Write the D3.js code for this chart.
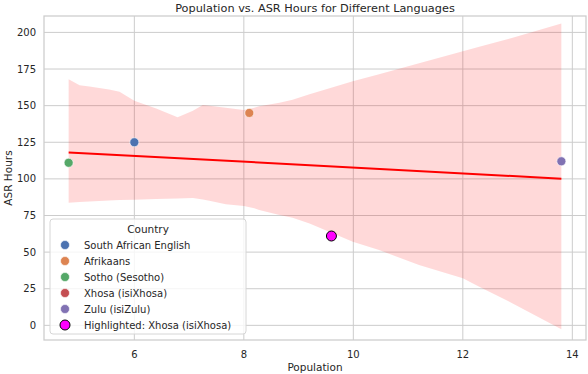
<!DOCTYPE html>
<html>
<head>
<meta charset="utf-8">
<script src="https://d3js.org/d3.v7.min.js"></script>
<style>
  body { margin: 0; background: #fff; }
  text { font-family: "DejaVu Sans", sans-serif; fill: #262626; }
</style>
</head>
<body>
<script>
"use strict";
// data
var languages = ["South African English", "Afrikaans", "Sotho (Sesotho)", "Xhosa (isiXhosa)", "Zulu (isiZulu)"];
var population = [6.0, 8.1, 4.8, 9.6, 13.8];
var asrHours = [125, 145, 111, 61, 112];
var colors = ["#4c72b0", "#dd8452", "#55a868", "#c44e52", "#8172b3"];
var highlighted = "Xhosa (isiXhosa)";

// bootstrapped confidence band
var bandX     = [4.8, 5.0, 5.18, 5.54, 5.73, 6.0, 6.4, 6.79, 7.07, 7.25, 7.37, 7.67, 8.0, 8.19, 8.28, 8.65, 8.89, 9.2, 9.99, 10.47, 11.2, 12.0, 12.3, 12.91, 13.8];
var bandUpper = [168, 164, 163, 161, 159.5, 153.3, 148, 142, 146.5, 150.4, 150, 148.5, 147, 148.5, 149.5, 152, 154, 157.7, 166.7, 171.5, 179, 187.2, 190.2, 196.4, 206];
var bandLower = [83.7, 84.2, 84.6, 85.2, 85.5, 85.7, 86.2, 86.6, 86.9, 86, 85.1, 82.6, 81.4, 80, 78.7, 75.3, 73.5, 69.5, 57.1, 51.4, 41.2, 32.1, 26.4, 15, -2.7];

var xTicks = [6, 8, 10, 12, 14];
var yTicks = [0, 25, 50, 75, 100, 125, 150, 175, 200];

var width = 588, height = 374;
var margin = {left: 44, right: 2, top: 16, bottom: 34};

var svg = d3.select("body").append("svg")
    .attr("width", width).attr("height", height);

var x = d3.scaleLinear().domain([4.35, 14.25]).range([margin.left, width - margin.right]);
var y = d3.scaleLinear().domain([-10, 211.2]).range([height - margin.bottom, margin.top]);

// grid
svg.append("g").selectAll("line").data(xTicks).enter().append("line")
    .attr("x1", function (d) { return x(d); }).attr("x2", function (d) { return x(d); })
    .attr("y1", margin.top).attr("y2", height - margin.bottom)
    .attr("stroke", "#cccccc").attr("stroke-width", 1);
svg.append("g").selectAll("line").data(yTicks).enter().append("line")
    .attr("y1", function (d) { return y(d); }).attr("y2", function (d) { return y(d); })
    .attr("x1", margin.left).attr("x2", width - margin.right)
    .attr("stroke", "#cccccc").attr("stroke-width", 1);

// confidence band
var band = bandX.map(function (d, i) { return [d, bandUpper[i], bandLower[i]]; });
svg.append("path")
    .datum(band)
    .attr("fill", "red").attr("fill-opacity", 0.15)
    .attr("d", d3.area()
        .x(function (d) { return x(d[0]); })
        .y0(function (d) { return y(d[2]); })
        .y1(function (d) { return y(d[1]); }));

// least squares fit line
var mx = d3.mean(population), my = d3.mean(asrHours);
var sxy = d3.sum(population, function (d, i) { return (d - mx) * (asrHours[i] - my); });
var sxx = d3.sum(population, function (d) { return (d - mx) * (d - mx); });
var slope = sxy / sxx, icpt = my - slope * mx;
var xmin = d3.min(population), xmax = d3.max(population);
svg.append("line")
    .attr("x1", x(xmin)).attr("y1", y(icpt + slope * xmin))
    .attr("x2", x(xmax)).attr("y2", y(icpt + slope * xmax))
    .attr("stroke", "red").attr("stroke-width", 2);

// points
svg.append("g").selectAll("circle").data(languages).enter().append("circle")
    .attr("cx", function (d, i) { return x(population[i]); })
    .attr("cy", function (d, i) { return y(asrHours[i]); })
    .attr("r", 4.5)
    .attr("fill", function (d, i) { return colors[i]; })
    .attr("stroke", "#fff").attr("stroke-width", 0.6);

var hi = languages.indexOf(highlighted);
svg.append("circle")
    .attr("cx", x(population[hi])).attr("cy", y(asrHours[hi]))
    .attr("r", 5).attr("fill", "magenta")
    .attr("stroke", "#000").attr("stroke-width", 1);

// frame
svg.append("rect")
    .attr("x", margin.left).attr("y", margin.top)
    .attr("width", width - margin.left - margin.right)
    .attr("height", height - margin.top - margin.bottom)
    .attr("fill", "none").attr("stroke", "#cccccc").attr("stroke-width", 1.25);

// tick labels
svg.append("g").selectAll("text").data(xTicks).enter().append("text")
    .attr("x", function (d) { return x(d); }).attr("y", height - margin.bottom + 18)
    .attr("text-anchor", "middle").style("font-size", "10px")
    .text(function (d) { return d; });
svg.append("g").selectAll("text").data(yTicks).enter().append("text")
    .attr("x", margin.left - 8).attr("y", function (d) { return y(d) + 3.5; })
    .attr("text-anchor", "end").style("font-size", "10px")
    .text(function (d) { return d; });

// titles
svg.append("text").attr("x", (margin.left + width - margin.right) / 2).attr("y", 12)
    .attr("text-anchor", "middle").style("font-size", "11.3px")
    .text("Population vs. ASR Hours for Different Languages");
svg.append("text").attr("x", (margin.left + width - margin.right) / 2).attr("y", 371)
    .attr("text-anchor", "middle").style("font-size", "10.5px")
    .text("Population");
svg.append("text")
    .attr("transform", "translate(12," + ((margin.top + height - margin.bottom) / 2) + ") rotate(-90)")
    .attr("text-anchor", "middle").style("font-size", "10.5px")
    .text("ASR Hours");

// legend
var lg = svg.append("g").attr("transform", "translate(50,219)");
lg.append("rect").attr("width", 196).attr("height", 115).attr("rx", 3)
    .attr("fill", "#fff").attr("fill-opacity", 0.8)
    .attr("stroke", "#d6d6d6").attr("stroke-width", 1);
lg.append("text").attr("x", 98).attr("y", 14).attr("text-anchor", "middle")
    .style("font-size", "10.5px").text("Country");
var entries = languages.map(function (d, i) { return {label: d, color: colors[i], hi: false}; });
entries.push({label: "Highlighted: " + highlighted, color: "magenta", hi: true});
var rows = lg.selectAll("g.row").data(entries).enter().append("g")
    .attr("class", "row")
    .attr("transform", function (d, i) { return "translate(0," + (26 + i * 16) + ")"; });
rows.append("circle").attr("cx", 15).attr("cy", 0)
    .attr("r", function (d) { return d.hi ? 5 : 4.5; })
    .attr("fill", function (d) { return d.color; })
    .attr("stroke", function (d) { return d.hi ? "#000" : "#fff"; })
    .attr("stroke-width", function (d) { return d.hi ? 1 : 0.6; });
rows.append("text").attr("x", 34).attr("y", 3.6)
    .style("font-size", "10px").text(function (d) { return d.label; });
</script>
</body>
</html>
